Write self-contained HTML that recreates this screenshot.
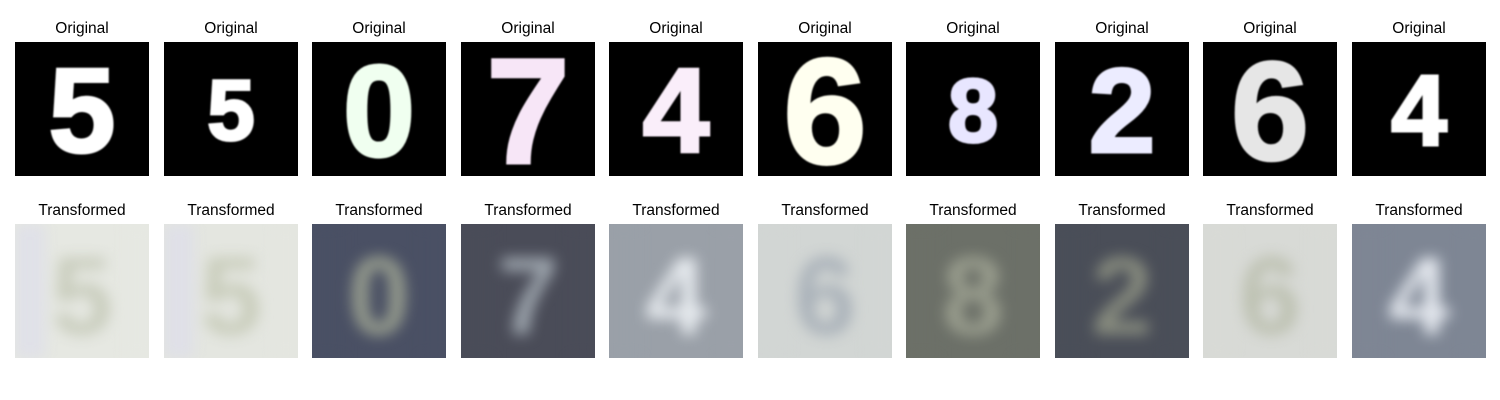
<!DOCTYPE html>
<html><head><meta charset="utf-8">
<style>
body{margin:0;background:#fff;width:1500px;height:400px;overflow:hidden;font-family:"Liberation Sans","DejaVu Sans",sans-serif}
.t{position:absolute;font-size:15.5px;color:#000;text-align:center;width:160px}
.img{position:absolute;width:134px;height:134px;overflow:hidden}
</style></head><body>
<div id="root"></div>
<script>
const digits=["5","5","0","7","4","6","8","2","6","4"];
const digitColors=["#ffffff","#ffffff","#f0fff0","#f7e6f7","#faeefa","#fffff0","#e8e6ff","#ececff","#e6e6e6","#ffffff"];
const digitSizes=[120,85,130,150,120,150,90,120,140,100];
const transBg=["#e6e8e2","#e4e6e0","#4a5064","#4a4c58","#9aa0a8","#d2d6d4","#6c7068","#4a4e58","#d8dad6","#7e8694"];
const transFg=["#c8ccbc","#c8ccba","#9aa090","#a0a8b0","#e8ecf0","#a8b0b8","#9ca090","#8a8e80","#bcc0b0","#e6eaf0"];
const root=document.getElementById('root');
const lefts=[15,164,312,461,609,758,906,1055,1203,1352];
digits.forEach((d,i)=>{
  const x=lefts[i];
  const t1=document.createElement('div');t1.className='t';
  
  
  t1.style.left=(x+67-80)+'px';t1.style.top='20px';t1.textContent='Original';root.appendChild(t1);
  const a=document.createElement('div');a.className='img';
  
  
  a.style.left=x+'px';a.style.top='42px';a.style.background='#000';
  a.innerHTML=`<svg width="134" height="134"><text x="67" y="${67+digitSizes[i]*0.36}" text-anchor="middle" font-family="Liberation Sans, sans-serif" font-weight="bold" font-size="${digitSizes[i]}" fill="${digitColors[i]}" stroke="${digitColors[i]}" stroke-width="3" style="filter:blur(0.7px)">${d}</text></svg>`;
  root.appendChild(a);
  const t2=document.createElement('div');t2.className='t';
  
  
  t2.style.left=(x+67-80)+'px';t2.style.top='202px';t2.textContent='Transformed';root.appendChild(t2);
  const b=document.createElement('div');b.className='img';
  
  
  b.style.left=x+'px';b.style.top='224px';b.style.background=transBg[i];
  b.innerHTML=`<svg width="134" height="134"><g style="filter:blur(7px)"><rect x="0" y="0" width="30" height="134" fill="${i<2?'#dcdcec':transBg[i]}" opacity="0.6"/><text x="67" y="110" text-anchor="middle" font-family="Liberation Sans, sans-serif" font-weight="bold" font-size="110" fill="${transFg[i]}">${d}</text><rect x="110" y="0" width="24" height="134" fill="${transBg[i]}"/></g></svg>`;
  root.appendChild(b);
});
</script>
</body></html>
